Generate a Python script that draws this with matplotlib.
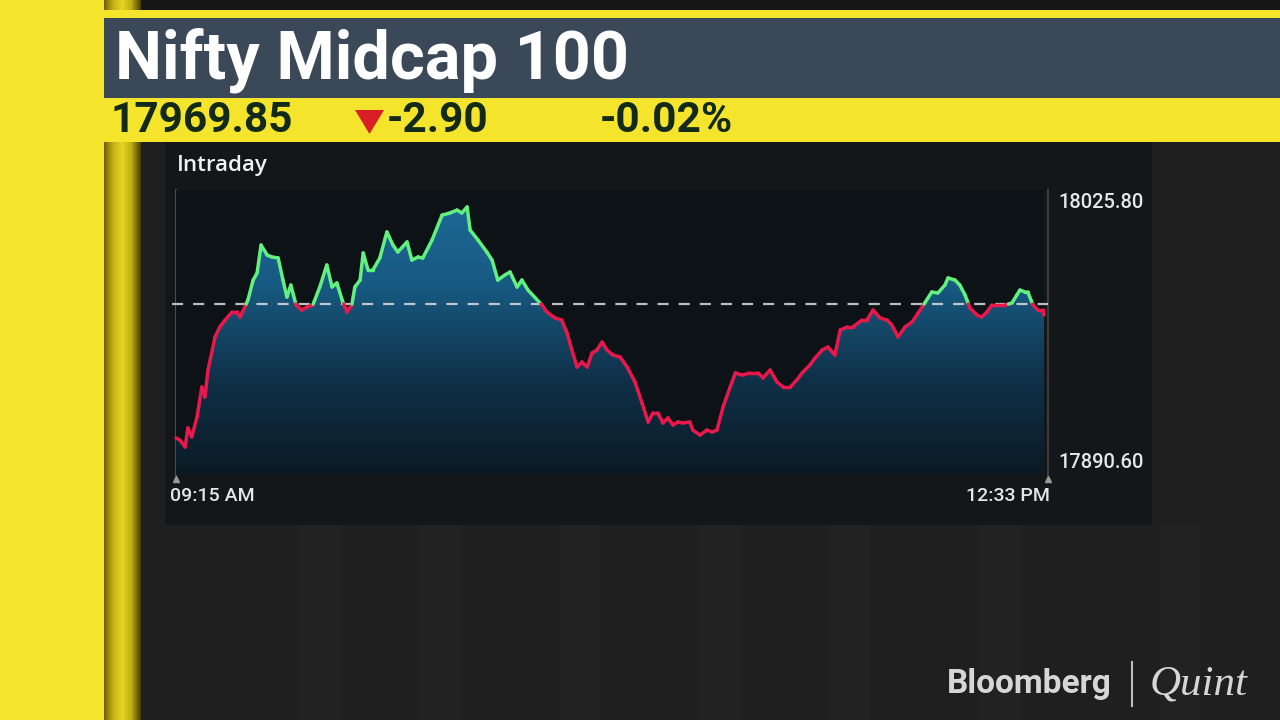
import numpy as np
import matplotlib
matplotlib.use("Agg")
import matplotlib.pyplot as plt
from matplotlib.collections import LineCollection
from matplotlib.colors import LinearSegmentedColormap
from matplotlib.patches import Rectangle, Polygon

plt.rcParams['font.family'] = ['Roboto', 'DejaVu Sans']

# header values
index_name = "Nifty Midcap 100"
last_price = "17969.85"
change = "-2.90"
change_pct = "-0.02%"
prev_close = 17972.75

# axis labels
y_high = 18025.80
y_low = 17890.60
t_start = "09:15 AM"
t_end = "12:33 PM"

# intraday series, minutes after 09:15 and index level
minutes = [0, 0.9, 2.1, 2.7, 3.6, 4.8, 5.9, 6.6, 7.3, 8.9, 10.0, 11.2, 12.8, 13.9, 14.6,
           15.7, 16.4, 17.6, 18.5, 19.4, 20.8, 21.9, 23.3, 24.4, 25.3, 26.2, 27.4, 28.7,
           29.9, 31.2, 32.8, 34.4, 35.6, 36.7, 37.9, 39.0, 40.1, 40.8, 42.0, 42.7, 43.8,
           44.9, 46.5, 48.1, 49.5, 50.6, 52.7, 53.8, 55.2, 56.3, 58.4, 60.7, 62.5, 64.1,
           65.2, 66.4, 67.1, 68.9, 70.9, 72.1, 73.4, 75.0, 76.2, 77.8, 78.9, 80.3, 83.5,
           84.6, 86.5, 88.0, 89.2, 90.3, 91.5, 92.6, 93.8, 94.9, 96.0, 97.2, 98.3, 99.7,
           101.3, 102.9, 104.7, 106.3, 107.7, 108.8, 109.9, 111.1, 112.2, 113.4, 114.5,
           115.6, 117.2, 117.9, 119.5, 121.1, 122.3, 123.4, 124.8, 126.4, 127.6, 129.2,
           130.9, 132.8, 133.9, 135.5, 137.1, 138.5, 140.1, 141.6, 143.0, 144.6, 145.8,
           147.4, 148.7, 150.3, 151.5, 153.1, 154.4, 156.5, 157.6, 159.0, 160.6, 162.2,
           163.3, 164.7, 166.3, 167.9, 169.3, 170.8, 172.4, 173.8, 175.4, 176.1, 177.7,
           178.8, 180.0, 181.1, 182.7, 183.8, 185.0, 186.1, 187.5, 189.1, 190.7, 191.8,
           192.5, 193.7, 194.3, 195.5, 196.6, 197.8, 198.0]
values = [17903.1, 17902.0, 17898.4, 17908.3, 17903.6, 17914.0, 17929.6, 17924.4, 17938.4,
          17955.6, 17960.8, 17964.4, 17968.6, 17968.6, 17966.0, 17971.2, 17974.8, 17985.2,
          17988.9, 18003.4, 17998.2, 17997.2, 17996.7, 17985.2, 17976.4, 17982.6, 17972.2,
          17969.6, 17971.2, 17972.2, 17981.6, 17993.0, 17981.6, 17983.7, 17974.8, 17968.6,
          17972.2, 17981.6, 17985.2, 17999.3, 17990.4, 17990.4, 17996.7, 18010.2, 18003.4,
          17999.8, 18005.0, 17995.6, 17997.2, 17996.7, 18006.0, 18019.0, 18020.1, 18021.6,
          18020.1, 18023.2, 18011.2, 18006.0, 17999.8, 17995.6, 17985.2, 17987.8, 17989.4,
          17981.6, 17985.2, 17980.0, 17972.2, 17968.6, 17965.5, 17964.4, 17957.7, 17948.8,
          17940.0, 17942.6, 17940.0, 17947.3, 17948.8, 17953.0, 17948.8, 17946.2, 17945.2,
          17940.0, 17932.2, 17921.3, 17911.4, 17916.1, 17916.1, 17910.9, 17913.5, 17909.8,
          17911.4, 17910.9, 17911.4, 17907.2, 17904.6, 17907.2, 17906.2, 17907.2, 17919.2,
          17929.6, 17936.9, 17935.8, 17936.9, 17936.9, 17934.3, 17938.4, 17932.2, 17929.6,
          17929.6, 17933.2, 17937.4, 17941.0, 17944.7, 17948.8, 17950.4, 17946.2, 17959.2,
          17960.8, 17960.8, 17964.4, 17964.4, 17969.6, 17965.5, 17964.4, 17961.8, 17955.6,
          17960.8, 17963.4, 17968.1, 17973.3, 17979.0, 17978.5, 17982.6, 17986.3, 17985.2,
          17982.6, 17977.4, 17970.7, 17967.0, 17966.0, 17968.6, 17972.2, 17972.2, 17972.2,
          17973.3, 17977.4, 17980.0, 17979.0, 17979.0, 17972.2, 17969.6, 17969.6, 17967.0]

UP = '#62f07e'
DOWN = '#e8184c'
YELLOW = '#f4e42c'
HEADER = '#3a4858'
DARK_TXT = '#13291a'


def split_by_level(x, y, level):
    segs, cols = [], []
    for i in range(len(x) - 1):
        x0, y0, x1, y1 = x[i], y[i], x[i + 1], y[i + 1]
        a0, a1 = y0 >= level, y1 >= level
        if a0 == a1:
            segs.append([(x0, y0), (x1, y1)])
            cols.append(UP if a0 else DOWN)
        else:
            t = (level - y0) / (y1 - y0)
            xc = x0 + t * (x1 - x0)
            segs.append([(x0, y0), (xc, level)])
            cols.append(UP if a0 else DOWN)
            segs.append([(xc, level), (x1, y1)])
            cols.append(UP if a1 else DOWN)
    return segs, cols


fig = plt.figure(figsize=(12.8, 7.2), dpi=100)
fig.patch.set_facecolor('#1f1f1f')

# background / broadcast frame in pixel coordinates
bg = fig.add_axes([0, 0, 1, 1])
bg.set_xlim(0, 1280)
bg.set_ylim(720, 0)
bg.axis('off')
bg.add_patch(Rectangle((0, 0), 1280, 720, color='#1f1f1f', zorder=0))
# faint vertical stripes of the studio backdrop
for sx in [300, 420, 560, 700, 830, 980, 1160]:
    bg.add_patch(Rectangle((sx, 525), 40, 195, color='#222222', zorder=0.5, lw=0))
bg.add_patch(Rectangle((0, 0), 104, 720, color=YELLOW, zorder=1, lw=0))
pillar = LinearSegmentedColormap.from_list('pillar', ['#6e6008', '#c8b414', '#e6d524', '#c0ac12', '#4a3f05'])
bg.imshow(np.linspace(0, 1, 64)[None, :], extent=[104, 141, 720, 0], cmap=pillar,
          aspect='auto', zorder=1)
bg.add_patch(Rectangle((141, 0), 1139, 10, color='#161616', zorder=1.2, lw=0))
bg.add_patch(Rectangle((104, 10), 1176, 8, color=YELLOW, zorder=2, lw=0))
bg.add_patch(Rectangle((104, 18), 1176, 80, color=HEADER, zorder=2, lw=0))
bg.add_patch(Rectangle((104, 98), 1176, 44, color=YELLOW, zorder=2, lw=0))
bg.add_patch(Rectangle((165, 142), 987, 383, color='#141618', zorder=2, lw=0))

bg.text(115, 60, index_name, fontsize=48, fontweight='bold', color='white',
        va='center', ha='left', zorder=3)
bg.text(111, 121, last_price, fontsize=30.5, fontweight='bold', color=DARK_TXT,
        va='center', ha='left', zorder=3)
bg.add_patch(Polygon([(355, 110), (384, 110), (369.5, 134)], closed=True,
                     color='#d81f26', zorder=3, lw=0))
bg.text(387, 121, change, fontsize=30.5, fontweight='bold', color=DARK_TXT,
        va='center', ha='left', zorder=3)
bg.text(600, 121, change_pct, fontsize=30.5, fontweight='bold', color=DARK_TXT,
        va='center', ha='left', zorder=3)
bg.text(177, 166, "Intraday", fontsize=16, fontweight='semibold', color='#f2f2f2',
        va='center', ha='left', zorder=3, family=['Open Sans', 'DejaVu Sans'])

# logo
bg.text(947, 684, "Bloomberg", fontsize=24, fontweight='bold', color='#d6d6d6',
        va='center', ha='left', zorder=3)
bg.plot([1132, 1132], [662, 706], color='#bdbdbd', lw=1.5, zorder=3)
bg.text(1150, 684, "Quint", fontsize=31, style='italic', family='Liberation Serif',
        color='#d6d6d6', va='center', ha='left', zorder=3)

# axis rules with small end markers
bg.plot([176, 176], [190, 478], color='#4a4d50', lw=1.5, zorder=3)
bg.plot([1048, 1048], [190, 478], color='#3a3d40', lw=1.5, zorder=3)
bg.plot([176, 1048], [479, 479], ls='none', marker='^', ms=5, color='#9a9a9a', zorder=3)

# chart axes
px_top, px_bot = 190, 475
px_hi, px_lo = 202, 462
per_px = (y_high - y_low) / (px_lo - px_hi)
ytop = y_high + (px_hi - px_top) * per_px
ybot = y_low - (px_bot - px_lo) * per_px

ax = fig.add_axes([176 / 1280, 1 - px_bot / 720, (1044 - 176) / 1280, (px_bot - px_top) / 720])
ax.set_facecolor('#0c1215')
for s in ax.spines.values():
    s.set_visible(False)
ax.set_xticks([])
ax.set_yticks([])

x = np.array(minutes)
y = np.array(values)

blue = LinearSegmentedColormap.from_list('fill', ['#0b1a24', '#0f3148', '#175a82', '#1e6b9a'])
poly = ax.fill_between(x, y, ybot, facecolor='none', edgecolor='none')
im = ax.imshow(np.linspace(0, 1, 256)[:, None][::-1], extent=[0, 198, ybot, ytop],
               aspect='auto', cmap=blue, zorder=1)
im.set_clip_path(poly.get_paths()[0], transform=ax.transData)

ax.plot([-0.005, 1.005], [prev_close, prev_close], transform=ax.get_yaxis_transform(),
        color='#dcdcdc', lw=1.6, ls=(0, (5, 4.5)), alpha=0.85, zorder=2, clip_on=False)

segs, cols = split_by_level(x, y, prev_close)
lc = LineCollection(segs, colors=cols, linewidths=2.5, capstyle='round', zorder=3)
lc.set_clip_on(False)
ax.add_collection(lc)

ax.set_xlim(0, 198)
ax.set_ylim(ybot, ytop)

ytr = ax.get_yaxis_transform()
ax.text(1.016, y_high, f"{y_high:.2f}", transform=ytr, fontsize=14.5, fontweight='medium',
        color='#e6e6e6', va='center', ha='left')
ax.text(1.016, y_low, f"{y_low:.2f}", transform=ytr, fontsize=14.5, fontweight='medium',
        color='#e6e6e6', va='center', ha='left')
ax.text(-0.007, -0.075, t_start, transform=ax.transAxes, fontsize=14, fontweight='medium',
        color='#e6e6e6', va='center', ha='left')
ax.text(1.007, -0.075, t_end, transform=ax.transAxes, fontsize=14, fontweight='medium',
        color='#e6e6e6', va='center', ha='right')

fig.savefig("out.png", dpi=100, facecolor=fig.get_facecolor())
